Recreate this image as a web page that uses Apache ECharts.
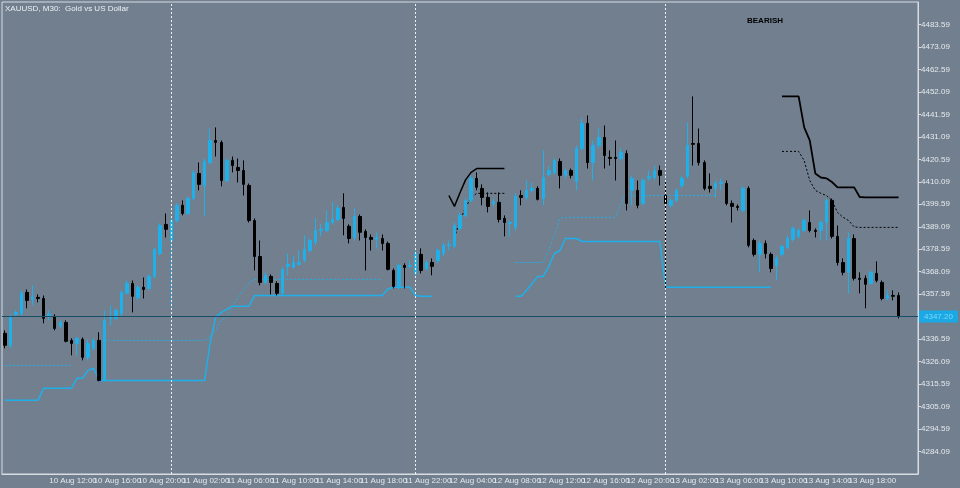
<!DOCTYPE html>
<html><head><meta charset="utf-8">
<script src="https://cdn.jsdelivr.net/npm/echarts@6/dist/echarts.min.js"></script>
<style>html,body{margin:0;padding:0;background:#717f8f}#c{width:960px;height:488px}</style>
</head><body><div id="c"></div>
<script>
const tickLabels=["10 Aug 2026","10 Aug 12:00","10 Aug 16:00","10 Aug 20:00","11 Aug 02:00","11 Aug 06:00","11 Aug 10:00","11 Aug 14:00","11 Aug 18:00","11 Aug 22:00","12 Aug 04:00","12 Aug 08:00","12 Aug 12:00","12 Aug 16:00","12 Aug 20:00","13 Aug 02:00","13 Aug 06:00","13 Aug 10:00","13 Aug 14:00","13 Aug 18:00","13 Aug 22:00"];
// [open, close, low, high]
const ohlc=[
[4339.3,4333.7,4332.3,4340.7],[4333.7,4347.2,4332.3,4348.2],[4348.2,4349.1,4347.2,4350.0],[4348.6,4358.0,4347.2,4359.4],
[4358.4,4354.7,4351.0,4359.8],[4355.2,4356.1,4352.4,4361.7],[4356.1,4355.6,4353.8,4357.5],[4355.6,4346.3,4344.0,4357.0],
[4347.2,4348.2,4345.4,4350.0],[4347.2,4341.6,4340.7,4348.2],[4342.6,4344.4,4341.6,4345.4],[4344.4,4335.6,4335.1,4345.4],
[4336.0,4334.6,4329.0,4337.0],[4334.6,4337.0,4329.0,4337.4],[4336.5,4328.1,4326.7,4337.4],[4328.1,4334.6,4326.7,4336.5],
[4332.3,4336.0,4331.4,4337.0],[4336.0,4317.3,4316.9,4339.8],[4317.3,4345.4,4316.9,4350.0],[4346.3,4346.8,4343.0,4352.4],
[4346.3,4350.0,4345.4,4351.0],[4348.6,4358.4,4347.2,4359.4],[4358.0,4362.6,4357.5,4364.0],[4362.6,4356.6,4349.1,4364.0],
[4356.1,4360.8,4354.7,4361.7],[4360.8,4359.8,4355.6,4365.4],[4360.3,4365.9,4359.4,4366.8],[4365.9,4378.5,4365.0,4379.5],
[4376.6,4389.7,4375.7,4390.7],[4390.2,4387.9,4384.1,4395.3],[4382.7,4392.0,4351.4,4393.0],[4392.0,4399.1,4391.1,4400.0],
[4399.1,4395.3,4394.4,4401.4],[4395.3,4402.3,4394.4,4403.3],[4402.3,4414.5,4401.4,4415.4],[4414.0,4408.9,4406.1,4419.1],
[4408.4,4419.6,4393.9,4421.0],[4419.1,4429.4,4418.2,4435.0],[4429.4,4428.5,4421.9,4435.5],[4428.5,4410.7,4408.0,4429.4],
[4410.7,4420.1,4409.8,4421.0],[4420.1,4417.7,4414.5,4421.9],[4416.8,4415.4,4409.8,4421.0],[4415.4,4408.9,4403.7,4420.1],
[4408.4,4392.0,4391.1,4409.3],[4392.0,4375.2,4368.7,4393.0],[4375.2,4363.1,4361.7,4382.7],[4363.1,4366.4,4362.2,4367.8],
[4365.9,4363.1,4357.5,4366.8],[4362.6,4358.0,4357.0,4363.6],[4358.0,4369.2,4357.0,4370.1],[4370.6,4371.5,4366.4,4376.6],
[4370.1,4372.4,4369.6,4375.7],[4371.5,4372.4,4371.0,4378.0],[4373.4,4378.5,4372.4,4385.1],[4378.0,4382.7,4377.1,4383.6],
[4381.8,4387.4,4380.4,4393.0],[4387.4,4387.9,4384.6,4390.2],[4387.4,4391.1,4386.5,4396.7],[4391.1,4392.5,4390.2,4400.5],
[4392.5,4397.7,4391.6,4399.1],[4398.1,4393.0,4385.1,4404.7],[4389.3,4383.6,4381.3,4390.2],[4384.1,4393.9,4382.7,4397.7],
[4393.9,4386.5,4382.7,4394.8],[4386.9,4384.1,4368.7,4387.9],[4384.1,4383.2,4378.0,4385.5],[4383.2,4384.1,4379.0,4386.5],
[4383.6,4381.3,4378.0,4385.5],[4381.3,4369.2,4368.7,4382.2],[4368.7,4361.2,4360.3,4369.6],[4360.8,4371.0,4359.8,4372.0],
[4371.0,4370.1,4360.3,4372.0],[4370.6,4371.0,4369.6,4373.4],[4367.3,4376.6,4366.4,4378.0],[4376.2,4368.7,4367.3,4379.0],
[4369.6,4372.4,4368.7,4373.4],[4372.4,4370.6,4366.4,4374.3],[4373.4,4378.0,4372.0,4379.0],[4376.6,4380.4,4375.2,4381.8],
[4380.4,4380.8,4378.0,4382.7],[4379.9,4389.7,4379.0,4391.1],[4388.3,4394.4,4387.4,4395.8],[4394.4,4401.4,4393.5,4402.3],
[4401.4,4411.7,4400.5,4413.1],[4411.7,4407.5,4406.1,4414.5],[4407.0,4402.8,4399.1,4408.9],[4402.8,4398.6,4395.8,4405.1],
[4400.0,4400.9,4398.6,4402.3],[4400.5,4392.5,4391.1,4405.1],[4393.0,4391.1,4384.6,4394.4],[4390.6,4391.1,4384.6,4392.0],
[4388.8,4403.3,4387.4,4404.7],[4403.7,4402.8,4399.1,4406.1],[4402.8,4406.1,4401.4,4410.7],[4406.1,4407.0,4405.1,4409.8],
[4407.0,4401.9,4401.4,4408.0],[4402.3,4412.1,4399.1,4424.8],[4413.5,4415.4,4412.6,4417.7],[4414.5,4420.1,4413.5,4421.0],
[4419.6,4413.1,4407.0,4421.0],[4413.1,4415.4,4411.7,4416.3],[4415.4,4413.1,4411.7,4416.3],[4410.3,4425.7,4406.1,4427.1],
[4425.7,4437.4,4424.8,4439.7],[4437.4,4419.1,4416.3,4441.1],[4419.1,4427.1,4410.7,4429.4],[4427.1,4430.8,4425.7,4435.0],
[4430.8,4422.4,4416.3,4436.4],[4421.5,4421.0,4417.7,4424.8],[4421.5,4421.0,4410.7,4429.4],[4421.0,4423.8,4420.1,4425.7],
[4423.3,4400.0,4396.7,4424.8],[4406.1,4411.7,4399.1,4413.1],[4406.1,4399.1,4397.7,4410.7],[4400.0,4410.7,4399.1,4411.7],
[4411.7,4412.6,4410.7,4415.4],[4412.1,4415.4,4410.7,4417.7],[4415.4,4413.1,4408.4,4417.7],[4403.7,4400.0,4359.4,4410.7],
[4399.1,4401.4,4398.1,4402.3],[4401.4,4406.1,4400.5,4407.0],[4408.4,4411.7,4407.0,4413.1],[4412.6,4427.1,4411.7,4437.8],
[4428.0,4427.6,4417.7,4450.0],[4428.0,4419.1,4417.7,4435.0],[4419.1,4407.0,4406.1,4420.1],[4408.0,4407.0,4405.1,4414.0],
[4407.0,4409.3,4402.8,4410.7],[4409.3,4409.8,4406.1,4411.7],[4409.3,4400.0,4399.1,4410.7],[4400.0,4398.6,4391.1,4401.4],
[4398.6,4398.1,4396.7,4399.5],[4396.7,4407.0,4395.8,4408.0],[4407.0,4380.4,4379.5,4408.0],[4382.7,4376.2,4375.2,4383.6],
[4376.2,4381.3,4367.8,4382.7],[4381.3,4376.6,4374.3,4382.7],[4376.2,4369.6,4367.8,4377.1],[4371.0,4374.3,4364.0,4375.7],
[4376.2,4379.9,4375.2,4380.8],[4379.5,4383.6,4378.5,4385.1],[4383.2,4388.3,4382.2,4389.3],[4384.6,4387.4,4383.6,4388.3],
[4387.4,4392.0,4386.5,4393.0],[4391.1,4387.4,4386.5,4396.7],[4387.4,4386.9,4384.1,4388.3],[4387.4,4391.1,4382.7,4392.0],
[4391.1,4401.4,4382.7,4402.3],[4401.4,4384.6,4383.6,4402.3],[4384.6,4372.4,4371.0,4389.7],[4372.4,4367.8,4366.4,4374.3],
[4367.8,4383.6,4358.0,4386.5],[4383.6,4365.0,4364.0,4385.5],[4365.0,4364.5,4358.0,4367.8],[4365.0,4362.2,4351.0,4366.4],
[4362.6,4367.8,4362.2,4368.7],[4367.3,4364.0,4363.1,4372.9],[4363.1,4355.6,4354.7,4364.0],[4355.6,4357.0,4354.7,4359.4],
[4357.0,4356.6,4354.7,4359.4],[4357.0,4347.2,4346.3,4358.4]];
const lastPrice=4347.2;
const emptySlotsRight=3;
// indicator lines: [startIndex, values...]
const cyanSolidA=[0,4308,4308,4308,4308,4308,4308,4308,4313.6,4313.6,4313.6,4313.6,4313.6,4313.6,4318.3,4318.3,4322,4323,4317.3,
4317.3,4317.3,4317.3,4317.3,4317.3,4317.3,4317.3,4317.3,4317.3,4317.3,4317.3,4317.3,4317.3,4317.3,4317.3,4317.3,4317.3,4317.3,4317.3,
4335,4347,4349,4350.5,4352,4352,4352,4352,4357,4357,4357,4357,4357,4357,4357,4357,4357,4357,4357,4357,4357,4357,4357,4357,4357,4357,4357,4357,4357,4357,4357,4357,
4360,4360.8,4360.8,4360.8,4360.8,4357,4356.6,4356.6,4356.6];
const cyanSolidB=[92,4356.6,4356.6,4359.4,4362.6,4365.9,4365.9,4370.6,4376.6,4378,4383.6,4383.6,4383.6,4382.2,
4382.2,4382.2,4382.2,4382.2,4382.2,4382.2,4382.2,4382.2,4382.2,4382.2,4382.2,4382.2,4382.2,4382.2,
4360.8,4360.8,4360.8,4360.8,4360.8,4360.8,4360.8,4360.8,4360.8,4360.8,4360.8,4360.8,4360.8,4360.8,4360.8,4360.8,4360.8,4360.8,4360.8,4360.8];
const cyanDashA=[0,4324.3,4324.3,4324.3,4324.3,4324.3,4324.3,4324.3,4324.3,4324.3,4324.3,4324.3,4324.3,4324.3];
const cyanDashB=[18,4336,4336,4336,4336,4336,4336,4336,4336,4336,4336,4336,4336,4336,4336,4336,4336,4336,4336,4336,
4338,4341,4345.4,4347,4352,4356,4359.4,4363,4364.5,4364.5,4364.5,4364.5,4364.5,4364.5,4364.5,4364.5,4364.5,4364.5,4364.5,4364.5,4364.5,4364.5,4364.5,4364.5,4364.5,4364.5,4364.5,4364.5,4364.5,4364.5,4364.5,4364.5];
const cyanDashC=[92,4372.4,4372.4,4372.4,4372.4,4372.4,4372.4,4378,4385,4393,4393.5,4393.5,4393.5,4393.5,4393.5,4393.5,4393.5,4393.5,4393.5,4393.5,
4400,4406,4403.7,4403.7,4403.7,4403.7,4403.7,4403.7,4403.7,4403.7,4403.7,4403.7,4403.7,4403.7,4403.7,4403.7,4403.7,4403.7];
const blackSolidA=[80,4403.7,4398.6,4405,4411,4414.5,4416.3,4416.3,4416.3,4416.3,4416.3,4416.3];
const blackDashA=[81,4384.1,4392,4398,4402.8,4404.7,4404.7,4404.7,4404.7,4404.7,4404.7];
const blackSolidB=[140,4450,4450,4450,4450,4435.5,4429.4,4414,4412.1,4411.7,4410,4407.5,4407.5,4407.5,4407.5,4403,4402.8,4402.8,4402.8,4402.8,4402.8,4402.8,4402.8];
const blackDashB=[140,4424.3,4424.3,4424.3,4424.3,4420,4410.7,4406.1,4404.7,4403.7,4401.4,4395.8,4393.5,4392,4389,4388.8,4388.8,4388.8,4388.8,4388.8,4388.8,4388.8,4388.8];
const daySeparators=[30,74,119];

const N=ohlc.length+emptySlotsRight;
const cats=Array.from({length:N},(d,i)=>String(i));
function expand(a){const out=new Array(N).fill(null);for(let k=1;k<a.length;k++){if(a[0]+k-1<N)out[a[0]+k-1]=a[k];}return out;}
function lineS(a,color,type,w){return {type:'line',data:expand(a),symbol:'none',silent:true,connectNulls:false,
 lineStyle:{color:color,width:w,type:type},z:3};}
const F='Liberation Sans';
const ch=echarts.init(document.getElementById('c'));
ch.setOption({
 backgroundColor:'#717f8f',animation:false,
 grid:{left:2,right:42,top:2,bottom:14,show:true,borderColor:'#d8dde3',borderWidth:1},
 xAxis:{type:'category',data:cats,boundaryGap:true,
  axisLine:{lineStyle:{color:'#d8dde3'}},
  axisTick:{interval:(i)=>i%8===0,alignWithLabel:true,length:3,lineStyle:{color:'#d8dde3'}},
  axisLabel:{interval:(i)=>i%8===0,hideOverlap:false,formatter:(v,i)=>tickLabels[i/8]||'',align:'left',margin:3,
   color:'#e6e9ed',fontSize:8,fontFamily:F},splitLine:{show:false}},
 yAxis:{type:'value',position:'right',min:4273.59,max:4494.09,interval:10.5,
  axisLine:{show:true,lineStyle:{color:'#d8dde3'}},
  axisTick:{show:true,length:3,lineStyle:{color:'#d8dde3'}},
  axisLabel:{showMinLabel:false,showMaxLabel:false,formatter:v=>v.toFixed(2),color:'#e6e9ed',fontSize:8,margin:3,fontFamily:F},
  splitLine:{show:false}},
 series:[
  {type:'candlestick',data:ohlc,barWidth:3,z:4,
   itemStyle:{color:'#1fb0ea',color0:'#000000',borderColor:'#1fb0ea',borderColor0:'#000000',borderWidth:1},
   markLine:{symbol:'none',silent:true,animation:false,
    data:[
     {yAxis:lastPrice,lineStyle:{color:'#174e66',width:1,type:'solid'},
      label:{show:true,position:'end',formatter:()=>lastPrice.toFixed(2),backgroundColor:'#1aa9e4',color:'#7fd6f5',fontSize:8,fontFamily:F,padding:[2,5],distance:1}},
     ...daySeparators.map(i=>({xAxis:String(i),lineStyle:{color:'#f0f0f0',width:1,type:[2,2]},label:{show:false}}))
    ]}},
  lineS(cyanSolidA,'#1fb0ea','solid',1.5),
  lineS(cyanSolidB,'#1fb0ea','solid',1.5),
  lineS(cyanDashA,'#1fb0ea',[2,2],1),
  lineS(cyanDashB,'#1fb0ea',[2,2],1),
  lineS(cyanDashC,'#1fb0ea',[2,2],1),
  lineS(blackSolidA,'#000000','solid',1.5),
  lineS(blackDashA,'#000000',[2,2],1),
  lineS(blackSolidB,'#000000','solid',1.8),
  lineS(blackDashB,'#000000',[2,2],1)
 ],
 graphic:[
  {type:'text',left:5,top:5,style:{text:'XAUUSD, M30:  Gold vs US Dollar',fill:'#eef1f4',fontSize:8,fontFamily:F}},
  {type:'text',left:747,top:17,style:{text:'BEARISH',fill:'#000000',fontSize:8,fontWeight:'bold',fontFamily:F}}
 ]
});
</script></body></html>
